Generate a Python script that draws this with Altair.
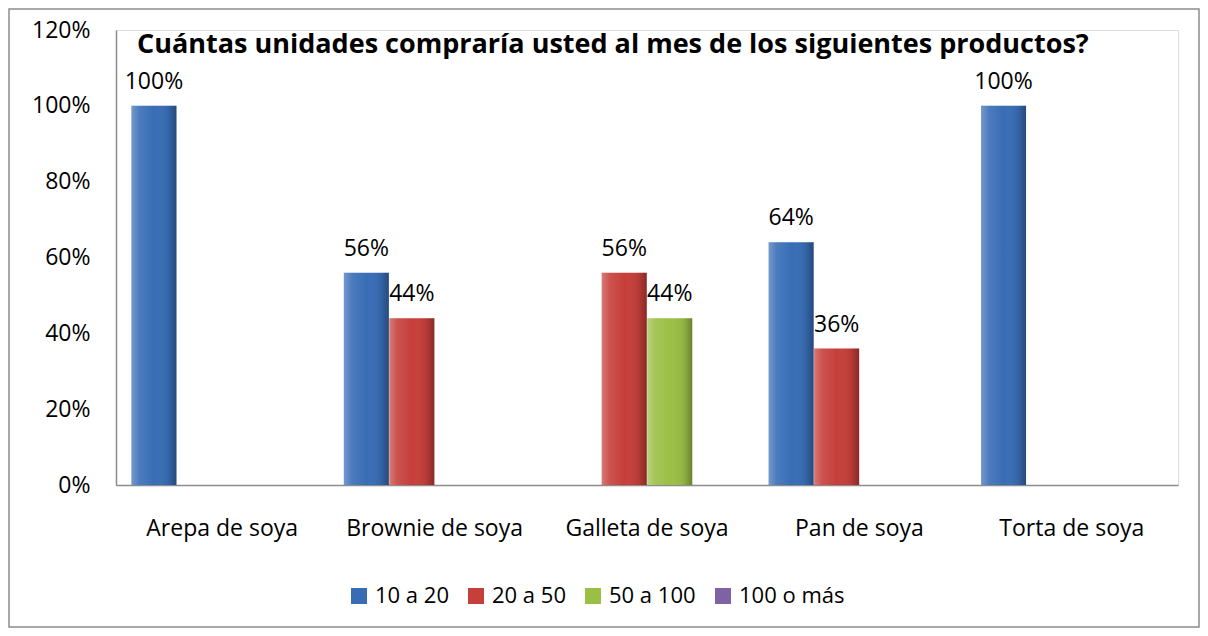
import altair as alt
import pandas as pd

title_text = "Cuántas unidades compraría usted al mes de los siguientes productos?"
categories = ["Arepa de soya", "Brownie de soya", "Galleta de soya", "Pan de soya", "Torta de soya"]
series = ["10 a 20", "20 a 50", "50 a 100", "100 o más"]
colors = ["#386db6", "#c63f3a", "#9bbf45", "#7f62a3"]

v_10_20 = [1.00, 0.56, None, 0.64, 1.00]
v_20_50 = [None, 0.44, 0.56, 0.36, None]
v_50_100 = [None, None, 0.44, None, None]
v_100_mas = [None, None, None, None, None]

rows = []
for s, vals in zip(series, [v_10_20, v_20_50, v_50_100, v_100_mas]):
    for c, v in zip(categories, vals):
        if v is not None:
            rows.append({"producto": c, "serie": s, "valor": v})
df = pd.DataFrame(rows)

FONT = "Open Sans"
W, H = 1062, 455

x_enc = alt.X("producto:N", sort=categories,
              scale=alt.Scale(domain=categories, paddingInner=0, paddingOuter=0),
              axis=alt.Axis(title=None, labelAngle=0, ticks=False, labelPadding=32,
                            labelFontSize=23, labelFont=FONT, labelColor="black",
                            domainColor="#8c8c8c", domainWidth=1.5))
xoff_enc = alt.XOffset("serie:N", scale=alt.Scale(domain=series, paddingInner=0, paddingOuter=0.334))
y_enc = alt.Y("valor:Q",
              scale=alt.Scale(domain=[0, 1.2], nice=False),
              axis=alt.Axis(title=None, format=".0%", values=[0, 0.2, 0.4, 0.6, 0.8, 1.0, 1.2],
                            grid=False, ticks=False, labelPadding=26, labelFontSize=23,
                            labelFont=FONT, labelColor="black",
                            domainColor="#8c8c8c", domainWidth=1.5))

base = alt.Chart(df).encode(x=x_enc, xOffset=xoff_enc, y=y_enc)

bars = base.mark_bar(size=45).encode(
    color=alt.Color("serie:N",
                    scale=alt.Scale(domain=series, range=colors),
                    legend=alt.Legend(title=None, orient="none", direction="horizontal",
                                      legendX=232, legendY=555, symbolType="square",
                                      symbolSize=256, symbolStrokeWidth=0,
                                      labelFontSize=22, labelFont=FONT, labelColor="black",
                                      columnPadding=16, labelOffset=5))
)

shine = base.mark_bar(size=45, color=alt.LinearGradient(
    gradient="linear", x1=0, x2=1, y1=0, y2=0,
    stops=[alt.GradientStop(color="rgba(255,255,255,0.30)", offset=0),
           alt.GradientStop(color="rgba(255,255,255,0.10)", offset=0.18),
           alt.GradientStop(color="rgba(255,255,255,0.0)", offset=0.5),
           alt.GradientStop(color="rgba(0,0,0,0.08)", offset=0.82),
           alt.GradientStop(color="rgba(0,0,0,0.32)", offset=1)]))

labels = base.mark_text(baseline="alphabetic", dy=-17, fontSize=23, font=FONT, color="black").encode(
    text=alt.Text("valor:Q", format=".0%")
)

single = pd.DataFrame({"k": [0]})
border = alt.Chart(single).mark_rect(
    fill="transparent", stroke="#8c8c8c", strokeWidth=1.5
).encode(x=alt.value(-107), x2=alt.value(1083), y=alt.value(-21), y2=alt.value(597))

title = alt.Chart(single).mark_text(
    align="left", baseline="alphabetic", fontSize=27, font=FONT, fontWeight="bold", color="black"
).encode(x=alt.value(21), y=alt.value(23), text=alt.value(title_text))

chart = alt.layer(border, bars, shine, labels, title).properties(
    width=W, height=H,
    autosize=alt.AutoSizeParams(type="none"),
    padding={"left": 108, "top": 22, "right": 22, "bottom": 143},
).configure_view(stroke=None).configure(background="white")

chart.save("out.html", embed_options={"renderer": "svg", "actions": False})
